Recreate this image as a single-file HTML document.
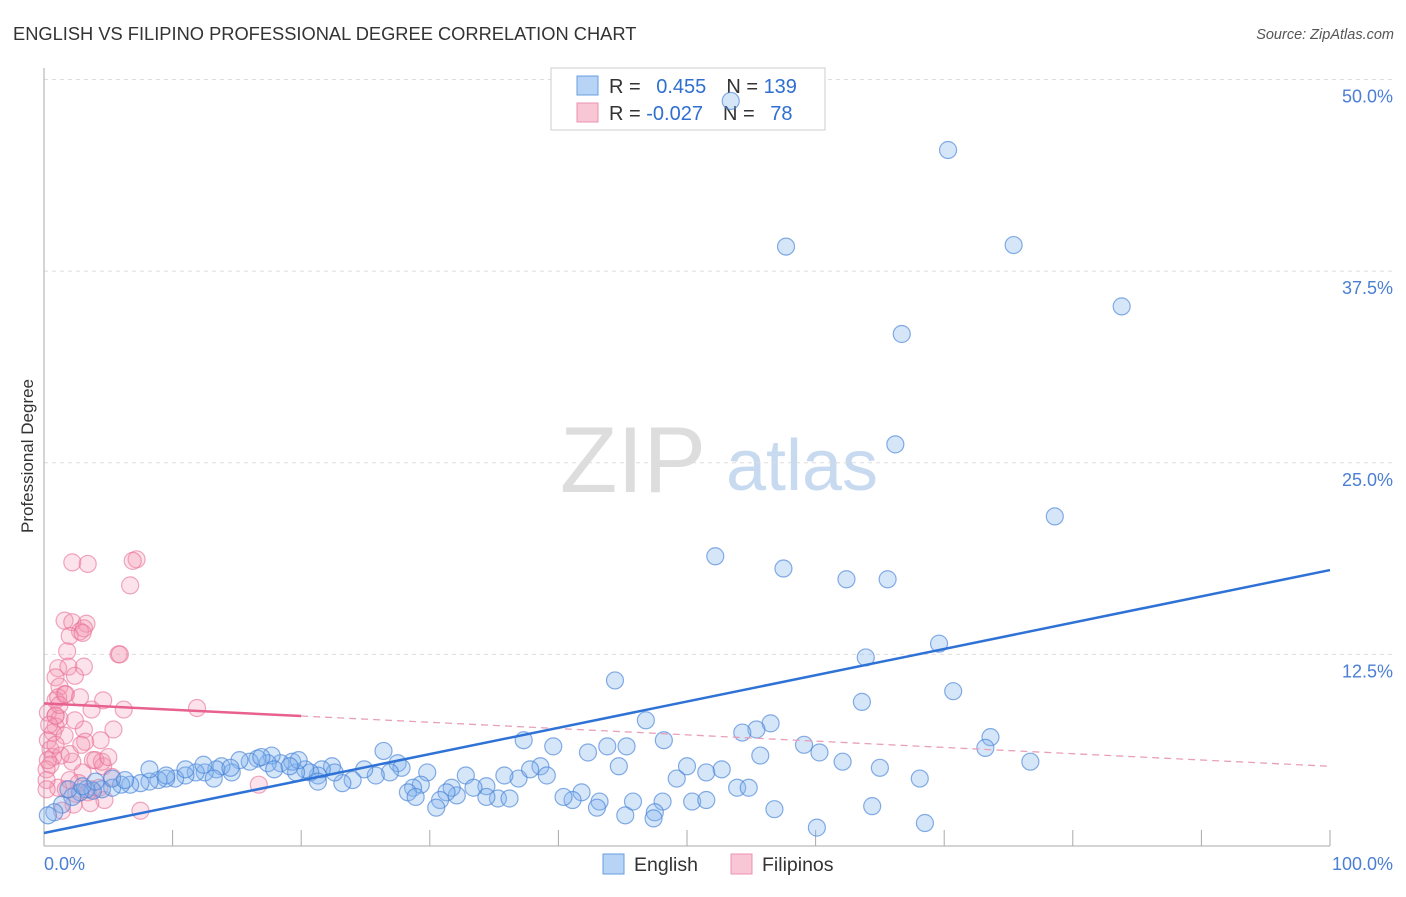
<!DOCTYPE html>
<html><head><meta charset="utf-8"><style>
body{margin:0;background:#fff;font-family:"Liberation Sans",sans-serif;}
svg text{font-family:"Liberation Sans",sans-serif;}
</style></head><body>
<svg id="c" width="1406" height="892">
<text x="13" y="40" font-size="18.3" fill="#333">ENGLISH VS FILIPINO PROFESSIONAL DEGREE CORRELATION CHART</text>
<text x="1394" y="39" font-size="14.5" fill="#555" font-style="italic" text-anchor="end">Source: ZipAtlas.com</text>
<text x="0" y="0" transform="translate(33,456) rotate(-90)" font-size="17" fill="#333" text-anchor="middle">Professional Degree</text>
<g><text x="633" y="492" font-size="94" fill="#ddd" font-family="Liberation Serif" text-anchor="middle">ZIP</text><text x="802" y="490" font-size="72" fill="#c8daf0" text-anchor="middle">atlas</text></g>
<g id="grid"></g>
<g>
<rect x="551" y="68" width="274" height="62" fill="#fff" stroke="#ccc"/>
<rect x="577" y="76" width="21" height="19" fill="#b7d3f5" stroke="#6a9de0"/>
<rect x="577" y="103" width="21" height="19" fill="#f9c6d5" stroke="#ec93b0"/>
<text x="609" y="93" font-size="20" fill="#333">R = <tspan fill="#2f6fd0" dx="10">0.455</tspan><tspan fill="#333" dx="20">N = </tspan><tspan fill="#2f6fd0">139</tspan></text>
<text x="609" y="120" font-size="20" fill="#333">R = <tspan fill="#2f6fd0">-0.027</tspan><tspan fill="#333" dx="20">N = </tspan><tspan fill="#2f6fd0" dx="10">78</tspan></text>
</g>
<g id="marks"></g>
<g>
<rect x="603" y="854" width="21" height="20" fill="#b7d3f5" stroke="#6a9de0"/>
<text x="634" y="871" font-size="19.5" fill="#333">English</text>
<rect x="731" y="854" width="21" height="20" fill="#f9c6d5" stroke="#ec93b0"/>
<text x="762" y="871" font-size="19.5" fill="#333">Filipinos</text>
</g>
</svg>
<script>
const yTicks=[12.5,25,37.5,50];
const yTickLabels=["12.5%","25.0%","37.5%","50.0%"];
const xTickLabels=["0.0%","100.0%"];
const englishX=[53.4,70.3,57.7,75.4,83.8,66.7,66.2,78.6,52.2,57.5,62.4,65.6,69.6,63.9,44.4,70.7,63.6,46.8,56.5,55.4,54.3,73.6,73.2,48.2,37.3,59.1,60.3,76.7,62.1,65.0,68.1,43.8,45.3,42.3,39.6,44.7,50.0,55.7,51.5,52.7,49.2,53.9,54.8,41.8,43.2,41.1,40.4,45.8,48.1,50.4,51.5,56.8,64.4,47.5,45.2,43.0,47.4,60.1,68.5,38.6,39.1,36.9,37.8,35.8,34.4,35.3,36.2,34.4,32.8,33.4,32.1,31.7,31.3,29.8,29.3,28.7,28.3,28.9,30.8,30.5,27.5,27.8,26.4,26.9,25.8,24.9,24.0,23.2,22.4,22.6,21.6,21.3,20.7,20.3,19.6,19.3,19.8,21.3,18.4,17.7,17.4,16.6,16.0,15.2,14.6,13.8,13.4,12.5,11.8,11.0,10.2,9.5,8.9,8.2,7.5,6.7,6.0,5.3,4.5,3.8,3.3,2.8,2.2,1.4,0.8,0.3,1.9,13.2,14.5,12.4,11.0,16.9,17.9,19.1,8.2,9.5,5.3,3.0,4.0,6.3];
const englishY=[48.6,45.4,39.1,39.2,35.2,33.4,26.2,21.5,18.9,18.1,17.4,17.4,13.2,12.3,10.8,10.1,9.4,8.2,8.0,7.6,7.4,7.1,6.4,6.9,6.9,6.6,6.1,5.5,5.5,5.1,4.4,6.5,6.5,6.1,6.5,5.2,5.2,5.9,4.8,5.0,4.4,3.8,3.8,3.5,2.9,3.0,3.2,2.9,2.9,2.9,3.0,2.4,2.6,2.2,2.0,2.5,1.8,1.2,1.5,5.2,4.6,4.4,5.0,4.6,3.9,3.1,3.1,3.2,4.6,3.8,3.3,3.8,3.5,4.8,4.0,3.8,3.5,3.2,3.0,2.5,5.4,5.1,6.2,4.8,4.6,5.0,4.3,4.1,5.2,4.8,5.0,4.6,4.8,5.0,4.8,5.5,5.6,4.2,5.4,5.9,5.4,5.7,5.5,5.6,4.8,5.2,5.0,4.8,4.8,4.6,4.4,4.4,4.3,4.2,4.1,4.0,4.0,3.8,3.7,3.6,3.7,3.5,3.2,2.7,2.2,2.0,3.7,4.4,5.1,5.3,5.0,5.8,5.0,5.2,5.0,4.6,4.4,3.9,4.2,4.3];
const filX=[2.2,3.4,7.2,6.9,6.7,1.6,2.2,3.3,2.8,3.1,2.0,3.0,1.8,5.8,5.9,1.1,1.9,3.1,2.4,0.9,1.2,1.6,0.9,1.1,2.8,4.6,11.9,6.2,3.7,0.3,0.9,1.2,3.1,0.9,0.7,5.4,0.3,0.5,0.7,2.2,1.3,3.2,2.0,3.8,3.0,4.6,0.5,0.2,2.7,3.7,4.3,5.3,4.5,1.1,2.5,2.3,3.4,4.7,7.5,16.7,1.4,3.6,1.7,0.2,0.2,0.3,0.9,1.2,1.7,4.0,2.9,5.0,4.4,2.4,1.6,0.9,2.0,0.4];
const filY=[18.5,18.4,18.7,18.6,17.0,14.7,14.6,14.5,14.0,14.2,13.7,13.9,12.7,12.5,12.5,11.6,11.7,11.7,11.1,11.0,10.4,9.9,9.5,9.7,9.7,9.5,9.0,8.9,8.9,8.7,8.5,8.3,7.6,7.8,7.4,7.6,6.9,6.3,5.8,5.5,5.9,6.8,6.0,5.6,4.8,5.2,5.3,5.0,4.1,3.7,3.8,4.5,5.5,3.8,3.4,2.7,3.5,3.0,2.3,4.0,2.3,2.8,3.7,4.3,3.7,5.6,8.5,9.2,9.9,5.6,6.6,5.8,6.9,8.2,7.2,6.6,4.3,7.9];
const englishTrend=[0.85,18.0];
const filTrend=[9.3,5.2];
const NS="http://www.w3.org/2000/svg";
const X=v=>44+v*12.86, Y=v=>846-v*15.33;
function mk(t,a,p){const e=document.createElementNS(NS,t);for(const k in a)e.setAttribute(k,a[k]);p.appendChild(e);return e;}
const grid=document.getElementById('grid'),marks=document.getElementById('marks');
yTicks.forEach((t,i)=>{
 const l=mk('line',{x1:44,x2:1394,y1:Y(t),y2:Y(t),stroke:'#ddd','stroke-dasharray':'4,4'},grid);
 
 
 const tx=mk('text',{x:1393,y:Y(t)+23,'font-size':18,fill:'#4a7fd4','text-anchor':'end'},grid);
 tx.textContent=yTickLabels[i];
 
 
});
const ax=mk('line',{x1:44,x2:1330,y1:846,y2:846,stroke:'#aaa'},grid);


const ay=mk('line',{x1:44,x2:44,y1:68,y2:846,stroke:'#aaa'},grid);


for(let i=1;i<=10;i++){const t=mk('line',{x1:X(i*10),x2:X(i*10),y1:830,y2:846,stroke:'#aaa'},grid);
 
 }
[[0,44,'start'],[100,1393,'end']].forEach((d,i)=>{const t=mk('text',{x:d[1],y:870,'font-size':18,fill:'#4a7fd4','text-anchor':d[2]},grid);t.textContent=xTickLabels[i];
 
 });
filX.forEach((x,i)=>{const c=mk('circle',{cx:X(x),cy:Y(filY[i]),r:8.5,fill:'rgba(244,150,180,0.28)',stroke:'rgba(232,110,150,0.6)','stroke-width':1.2},marks);
 
 });
englishX.forEach((x,i)=>{const c=mk('circle',{cx:X(x),cy:Y(englishY[i]),r:8.5,fill:'rgba(130,178,238,0.33)',stroke:'rgba(70,130,215,0.65)','stroke-width':1.2},marks);
 
 });
const fy=x=>filTrend[0]+(filTrend[1]-filTrend[0])*x/100;
const fs=mk('line',{x1:X(0),y1:Y(fy(0)),x2:X(20),y2:Y(fy(20)),stroke:'#e8608f','stroke-width':2.5},marks);


const fd=mk('line',{x1:X(20),y1:Y(fy(20)),x2:X(100),y2:Y(fy(100)),stroke:'#e8a0b8','stroke-width':1.3,'stroke-dasharray':'7,5'},marks);


const el=mk('line',{x1:X(0),y1:Y(englishTrend[0]),x2:X(100),y2:Y(englishTrend[1]),stroke:'#2f72d6','stroke-width':2.5},marks);


</script>
</body></html>
